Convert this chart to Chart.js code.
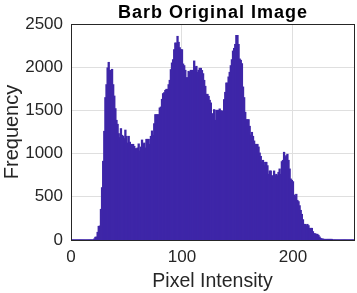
<!DOCTYPE html>
<html>
<head>
<meta charset="utf-8">
<script src="https://cdn.jsdelivr.net/npm/chart.js@4.4.1/dist/chart.umd.min.js"></script>
<style>
  html, body { margin: 0; padding: 0; background: #fff; }
  #wrap { width: 357px; height: 293px; }
</style>
</head>
<body>
<div id="wrap"><canvas id="histChart"></canvas></div>
<script>
// histogram counts for intensities 0..255
const counts = [
  0, 0, 0, 0, 0, 0, 0, 0, 0, 0, 0, 0, 0, 0, 0, 0, 0, 0, 0, 0, 0,
  10, 30, 33, 87, 156, 160, 353, 604, 909, 1256,
  1646, 1796, 1990, 2054, 1962, 1912, 1973, 1796, 1664, 1518,
  1383, 1337, 1229, 1183, 1287, 1210, 1198, 1171, 1270, 1198,
  1120, 1198, 1130, 1105, 1082, 1105, 1082, 1055, 1055, 1063,
  1110, 1028, 1074, 1155, 1105, 1120, 1063, 1163, 1163, 1163,
  1105, 1198, 1260, 1209, 1344, 1449, 1449, 1449, 1449, 1526,
  1537, 1626, 1692, 1703, 1730, 1742, 1742, 1796, 1846, 1970,
  2047, 2085, 2201, 2278, 2278, 2355, 2286, 2224, 2201, 2201,
  2035, 2016, 1962, 1877, 1877, 1950, 1939, 1962, 1931, 1962,
  2070, 2000, 2008, 1939, 1962, 1985, 1985, 1960, 1923, 1846,
  1777, 1684, 1684, 1661, 1615, 1584, 1461, 1422, 1507, 1383,
  1499, 1499, 1499, 1515, 1492, 1492, 1480, 1623, 1707, 1815,
  1815, 1885, 1939, 2016, 2085, 2185, 2216, 2262, 2366, 2366,
  2262, 2093, 2078, 2039, 1769, 1646, 1476, 1391, 1391, 1391,
  1314, 1213, 1244, 1198, 1144, 1105, 1105, 1105, 1074, 1005,
  966, 900, 920, 858, 897, 897, 858, 758, 797, 797,
  743, 720, 797, 743, 758, 743, 781, 820, 758, 905,
  920, 1013, 959, 974, 990, 920, 820, 704, 689, 673,
  519, 503, 527, 457, 442, 395, 341, 295, 233, 179,
  179, 164, 179, 164, 133, 133, 133, 95, 71, 71,
  64, 64, 52, 33, 17, 10, 10, 4, 3, 3,
  2, 2, 2, 1, 1,
  0, 0, 0, 0, 0, 0, 0, 0, 0, 0, 0, 0, 0, 0, 0, 0, 0, 0, 0, 0
];
const bins = counts.map((_, i) => i); // intensity of each bin
const xTicks = [0, 100, 200];
const yTicks = [0, 500, 1000, 1500, 2000, 2500];
const titleText = 'Barb Original Image';

const barColor = 'rgb(62, 38, 168)';
const textColor = '#262626';
const gridColor = '#dfdfdf';

// black box round the plot area + title centred over the plot area
const boxPlugin = {
  id: 'box',
  afterDraw(chart) {
    const a = chart.chartArea;
    const ctx = chart.ctx;
    ctx.save();
    ctx.strokeStyle = '#262626';
    ctx.lineWidth = 1;
    ctx.strokeRect(Math.round(a.left) + 0.5, Math.round(a.top) + 0.5,
      Math.round(a.right - a.left), Math.round(a.bottom - a.top));
    ctx.fillStyle = '#000';
    ctx.font = 'bold 18px "Liberation Sans"';
    ctx.letterSpacing = '1px';
    ctx.textAlign = 'center';
    ctx.textBaseline = 'alphabetic';
    ctx.fillText(titleText, (a.left + a.right) / 2 + 0.5, 17.5);
    ctx.restore();
  }
};

const ctx = document.getElementById('histChart').getContext('2d');
new Chart(ctx, {
  type: 'bar',
  data: {
    datasets: [{
      data: bins.map((b, i) => ({ x: b, y: counts[i] })),
      backgroundColor: barColor,
      borderWidth: 0,
      barPercentage: 1,
      categoryPercentage: 1,
      inflateAmount: 0.6,
    }],
  },
  options: {
    responsive: true,
    maintainAspectRatio: false,
    animation: false,
    layout: { padding: { left: 0, right: 3, top: 24, bottom: 0 } },
    plugins: {
      legend: { display: false },
      tooltip: { enabled: false },
    },
    scales: {
      x: {
        type: 'linear',
        min: 0,
        max: 255,
        offset: false,
        afterFit: (s) => { s.height = 53; },
        afterBuildTicks: (s) => { s.ticks = xTicks.map(v => ({ value: v })); },
        grid: { color: gridColor, drawTicks: false, offset: false },
        border: { display: false },
        ticks: {
          color: textColor,
          font: { family: 'Liberation Sans', size: 17 },
          padding: 7,
          maxRotation: 0,
          callback: (v) => String(v),
        },
        title: {
          display: true,
          text: 'Pixel Intensity',
          color: textColor,
          font: { family: 'Liberation Sans', size: 19.5 },
          padding: { top: 0, bottom: 0 },
        },
      },
      y: {
        min: 0,
        max: 2500,
        afterFit: (s) => { s.width = 71; },
        afterBuildTicks: (s) => { s.ticks = yTicks.map(v => ({ value: v })); },
        grid: { color: gridColor, drawTicks: false },
        border: { display: false },
        ticks: {
          color: textColor,
          font: { family: 'Liberation Sans', size: 17 },
          padding: 8,
          callback: (v) => String(v),
        },
        title: {
          display: true,
          text: 'Frequency',
          color: textColor,
          font: { family: 'Liberation Sans', size: 20 },
          padding: { top: 0, bottom: 0 },
        },
      },
    },
  },
  plugins: [boxPlugin],
});
</script>
</body>
</html>
